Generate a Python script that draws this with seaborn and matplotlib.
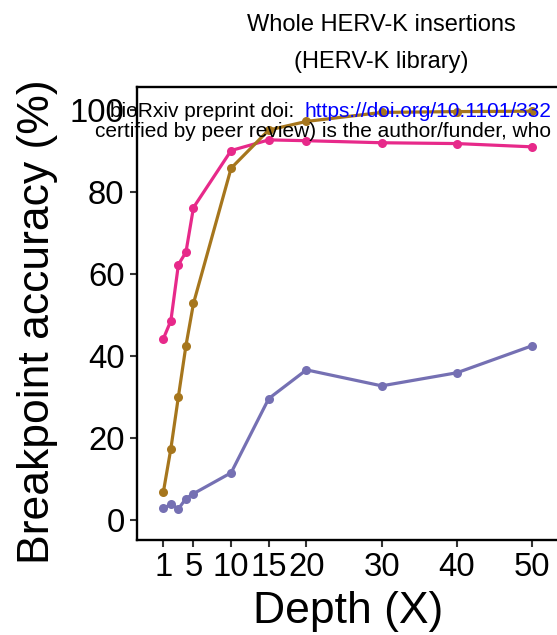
import matplotlib
matplotlib.use("Agg")
import matplotlib.pyplot as plt
import seaborn as sns
import pandas as pd

# ---- data ----
depth = [1, 2, 3, 4, 5, 10, 15, 20, 30, 40, 50]
series_a = [44.1, 48.5, 62.2, 65.2, 76.1, 90.0, 92.6, 92.4, 91.9, 91.7, 90.9]
series_b = [6.7, 17.3, 30.0, 42.4, 52.7, 85.7, 95.0, 97.1, 99.3, 99.5, 99.6]
series_c = [2.7, 3.7, 2.6, 5.1, 6.3, 11.4, 29.5, 36.5, 32.6, 35.8, 42.4]
series_names = ["A", "B", "C"]
colors = ["#E7298A", "#A6761D", "#7570B3"]
xticks = [1, 5, 10, 15, 20, 30, 40, 50]
yticks = [0, 20, 40, 60, 80, 100]

df = pd.DataFrame({
    "Depth": depth * 3,
    "Accuracy": series_a + series_b + series_c,
    "Series": [series_names[0]] * len(depth) + [series_names[1]] * len(depth)
              + [series_names[2]] * len(depth),
})

sns.set_theme(style="white")
plt.rcParams["font.family"] = ["Liberation Sans", "DejaVu Sans"]

W, H = 557, 635
fig = plt.figure(figsize=(W / 100, H / 100), dpi=100)

# axes position in pixels
x_px_left = 137
x_px_per = 7.53
x0_px = 155.8
xmin, xmax = -2.5, 56
y_top_px, y_bot_px = 87, 540
ymin, ymax = -5, 105.5
left = x_px_left / W
right = (x0_px + xmax * x_px_per) / W
ax = fig.add_axes([left, 1 - y_bot_px / H, right - left, (y_bot_px - y_top_px) / H])

sns.lineplot(data=df, x="Depth", y="Accuracy", hue="Series",
             palette=dict(zip(series_names, colors)), marker="o",
             markersize=6.5, markeredgewidth=0, linewidth=2.3,
             legend=False, ax=ax)

ax.set_xlim(xmin, xmax)
ax.set_ylim(ymin, ymax)
ax.set_xticks(xticks)
ax.set_xticklabels([str(t) for t in xticks])
ax.set_yticks(yticks)
ax.set_yticklabels([str(t) for t in yticks])
ax.set_xlabel("")
ax.set_ylabel("")
for s in ["left", "bottom", "top"]:
    ax.spines[s].set_color("black")
    ax.spines[s].set_linewidth(1.7)
ax.spines["right"].set_visible(False)
ax.tick_params(axis="both", which="both", length=5, width=1.5, color="#333333",
               labelsize=23.7, labelcolor="black", direction="out")
ax.tick_params(axis="x", pad=4)
ax.tick_params(axis="y", pad=4)
ax.tick_params(bottom=True, left=True)

# axis labels
fig.text(348 / W, 1 - 612 / H, "Depth (X)", ha="center", va="center",
         fontsize=32, color="black")
fig.text(38 / W, 1 - 322 / H, "Breakpoint accuracy (%)", ha="center", va="center",
         rotation=90, fontsize=32, color="black")

# title
fig.text(381 / W, 1 - 25 / H, "Whole HERV-K insertions", ha="center", va="center",
         fontsize=17, color="black")
fig.text(381 / W, 1 - 62 / H, "(HERV-K library)", ha="center", va="center",
         fontsize=17, color="black")

# preprint watermark overlay
fig.text(110 / W, 1 - 117 / H, "bioRxiv preprint doi: ", ha="left", va="baseline",
         fontsize=15, color="black")
fig.text(304 / W, 1 - 117 / H, "https://doi.org/10.1101/332", ha="left",
         va="baseline", fontsize=15, color="#0000FF")
fig.text(95 / W, 1 - 137 / H, "certified by peer review) is the author/funder, who",
         ha="left", va="baseline", fontsize=15, color="black")

fig.savefig("out.png", dpi=100)
